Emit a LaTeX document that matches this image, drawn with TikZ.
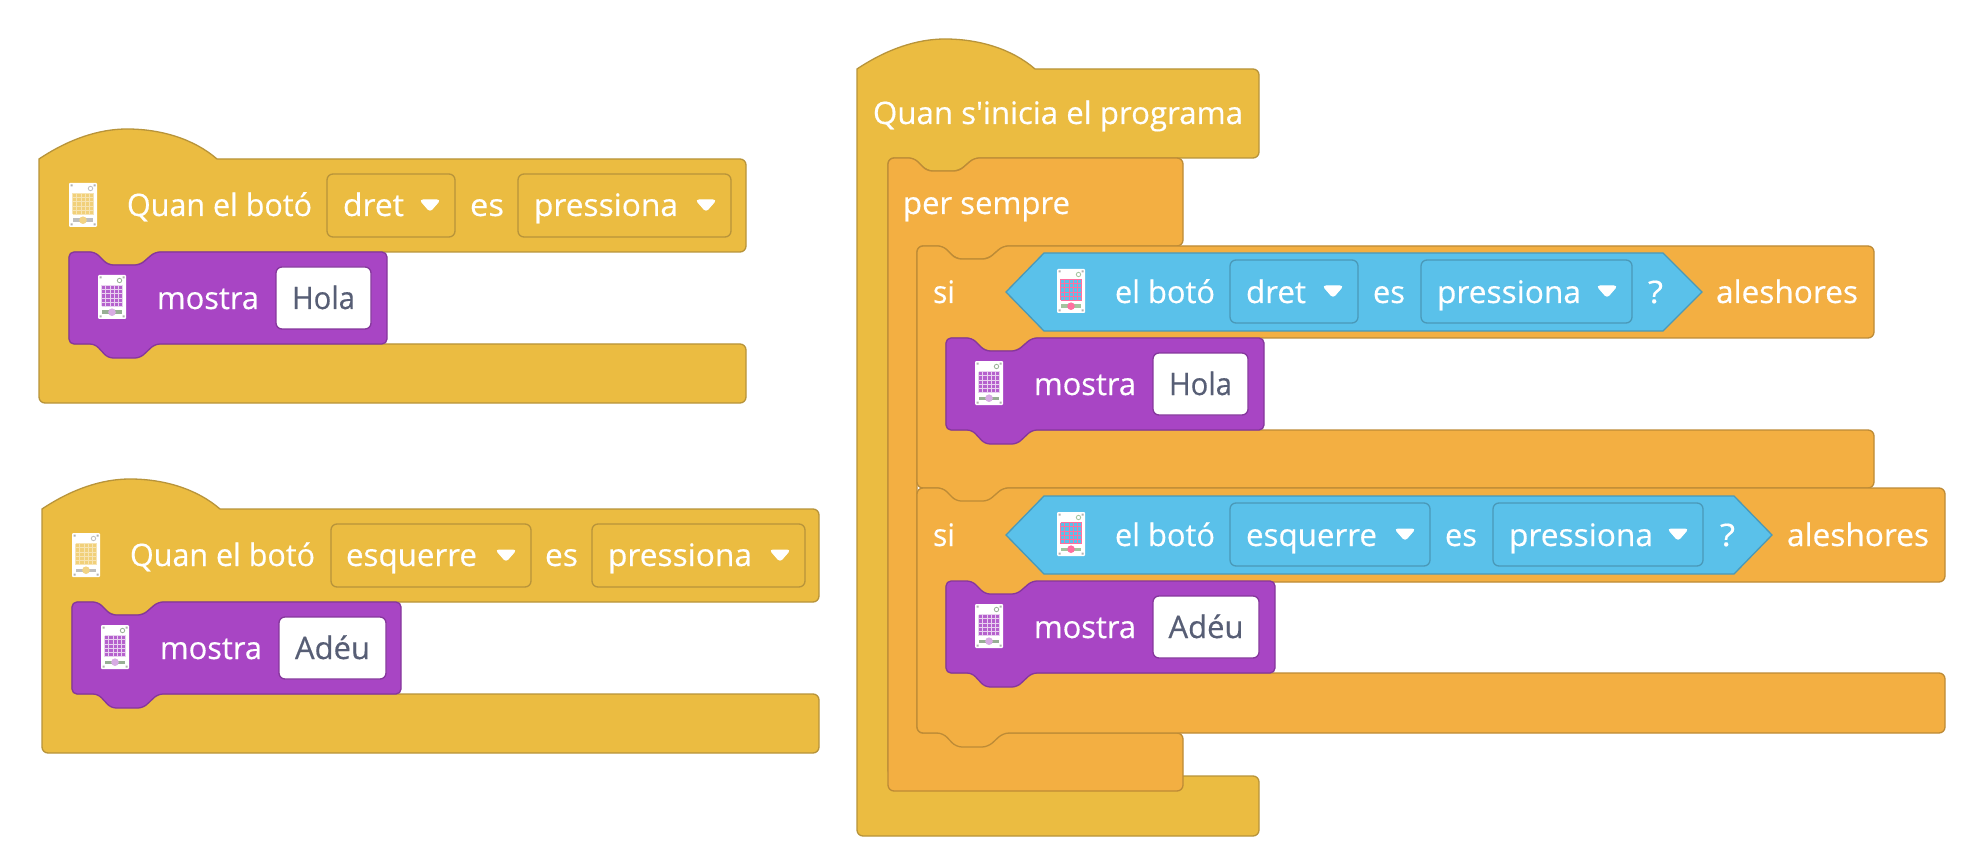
\documentclass[tikz,border=0pt]{standalone}
\usepackage{fontspec}
\usepackage{graphicx}
\newfontfamily\blockfont{Open Sans}[FakeBold=0.45]
\definecolor{yel}{HTML}{EBBC41}
\definecolor{yelD}{HTML}{B8943A}
\definecolor{org}{HTML}{F3AF42}
\definecolor{orgD}{HTML}{BD8B36}
\definecolor{pur}{HTML}{A845C4}
\definecolor{purD}{HTML}{85379C}
\definecolor{blu}{HTML}{5AC1EA}
\definecolor{bluD}{HTML}{4A99B8}
\definecolor{txtD}{HTML}{575E75}
\definecolor{pnk}{HTML}{FF6FA0}
\definecolor{sld}{HTML}{A3C49E}
\newcounter{tn}
\tikzset{
  yblock/.style={fill=yel,draw=yelD,line width=1.3pt},
  oblock/.style={fill=org,draw=orgD,line width=1.3pt},
  pblock/.style={fill=pur,draw=purD,line width=1.3pt},
  hexblock/.style={fill=blu,draw=bluD,line width=1.3pt},
  yfield/.style={draw=yelD,line width=1.3pt,rounded corners=6},
  bfield/.style={draw=bluD,line width=1.3pt,rounded corners=6},
  wfield/.style={fill=white,draw=purD,line width=1.3pt,rounded corners=6},
  lab/.style={inner sep=0pt,outer sep=0pt,anchor=base west,font=\blockfont\fontsize{31}{33}\selectfont},
  dd/.style={fill=white,draw=white,line width=1pt,rounded corners=3}
}
% text of a given printed width, left end x, baseline y
\newcommand\lbl[5]{\stepcounter{tn}%
  \node[lab,text=#5] (t\thetn) at ({#1},{#3}) {\resizebox{#2pt}{\height}{#4}};}
% top edges of the blocks, and how each closes
\newcommand\hattop[2]{[sharp corners] (#1,#2) .. controls ({#1+30},{#2-20}) and ({#1+60},{#2-30}) .. ({#1+88},{#2-30}) .. controls ({#1+122},{#2-30}) and ({#1+155},{#2-20}) .. ({#1+178},#2)}
\newcommand\hatclose[2]{-- (#1,{#2+30}) [sharp corners] -- (#1,#2) -- cycle}
\newcommand\notchtop[2]{[rounded corners=5] ({#1+13},#2) -- ({#1+26},#2) -- ({#1+39},{#2+13}) -- ({#1+71},{#2+13}) -- ({#1+86},#2)}
\newcommand\notchclose[2]{-- (#1,#2) -- cycle}
\newcommand\tabbot[2]{-- ({#1+86},{#2}) -- ({#1+71},{#2+14}) -- ({#1+39},{#2+14}) -- ({#1+26},{#2})}
\newcommand\nobot[2]{}
% C block: style, L, T, R, bar bottom, inner left, lower top, lower right, bottom
\newcommand\cblock[9]{%
  \draw[#1] \curtop{#2}{#3} [rounded corners=6] -- (#4,#3) -- (#4,#5)
   -- ({#6+86},#5) -- ({#6+71},{#5+13}) -- ({#6+39},{#5+13}) -- ({#6+26},#5) -- (#6,#5)
   -- (#6,#7) -- (#8,#7) -- (#8,#9) \curbot{#2}{#9} -- (#2,#9) \curclose{#2}{#3};}
% purple block: L, T, R, field left, field right, text width, text
\newcommand\mostra[7]{%
  \draw[pblock] \notchtop{#1}{#2} -- (#3,#2) -- (#3,{#2+92}) \tabbot{#1}{#2+92} -- (#1,{#2+92}) \notchclose{#1}{#2};
  \icon{#1+29}{#2+23}{pur!85!white}{white!75!pur}{sld!70!gray}{white!55!pur}
  \lbl{#1+88}{102}{#2+57}{mostra}{white}
  \draw[wfield] (#4,{#2+15}) rectangle (#5,{#2+77});
  \lbl{(#4+#5-#6)/2}{#6}{#2+57}{#7}{txtD}}
% device icon: x, y, grid, grid lines, slider, knob
\newcommand\icon[6]{%
  \begin{scope}[shift={({#1},{#2})}]
    \fill[white,rounded corners=1] (0,0) rectangle (28,44);
    \fill[#3] (3.5,10.5) rectangle (24.5,31.5);
    \foreach \k in {0,1,...,5}{
      \draw[#4,line width=.8pt] ({3.5+\k*4.2},10.5) -- ({3.5+\k*4.2},31.5);
      \draw[#4,line width=.8pt] (3.5,{10.5+\k*4.2}) -- (24.5,{10.5+\k*4.2});}
    \fill[gray!60] (1.5,1.5) rectangle (3.5,3.5) (24.5,1.5) rectangle (26.5,3.5) (1.5,40.5) rectangle (3.5,42.5) (24.5,40.5) rectangle (26.5,42.5);
    \draw[#5,line width=.8pt,fill=white] (21.5,5.5) circle (2.2);
    \fill[#5] (4,35.5) rectangle (24,39);
    \fill[#6] (14,37.2) circle (3.8);
  \end{scope}}
\newcommand\field[6]{% style L R T B ; arrow
  \draw[#1] (#2,#4) rectangle (#3,#5);
  \draw[dd] ({#3-35},{(#4+#5)/2-5.5}) -- ({#3-15},{(#4+#5)/2-5.5}) -- ({#3-25},{(#4+#5)/2+6}) -- cycle;}
\begin{document}
\begin{tikzpicture}[x=1pt,y=-1pt]
\useasboundingbox (0,0) rectangle (1972,866);
\fill[white] (0,0) rectangle (1972,866);
% ---------- left top
\let\curtop\hattop \let\curbot\nobot \let\curclose\hatclose
\cblock{yblock}{39}{159}{746}{252}{69}{344}{746}{403}
\icon{69}{183}{yel!70!white}{white!60!yel}{gray!50}{yel!65!white}
\lbl{127}{185}{216}{Quan el botó}{white}
\field{yfield}{327}{455}{174}{237}{}
\lbl{343}{61}{216}{dret}{white}
\lbl{470}{34}{216}{es}{white}
\field{yfield}{518}{731}{174}{237}{}
\lbl{534}{144}{216}{pressiona}{white}
\mostra{69}{252}{387}{276}{371}{63}{Hola}
% ---------- left bottom
\cblock{yblock}{42}{509}{819}{602}{72}{694}{819}{753}
\icon{72}{533}{yel!70!white}{white!60!yel}{gray!50}{yel!65!white}
\lbl{130}{185}{566}{Quan el botó}{white}
\field{yfield}{331}{531}{524}{587}{}
\lbl{346}{131}{566}{esquerre}{white}
\lbl{545}{33}{566}{es}{white}
\field{yfield}{592}{805}{524}{587}{}
\lbl{608}{144}{566}{pressiona}{white}
\mostra{72}{602}{401}{279}{386}{75}{Adéu}
% ---------- right stack
\cblock{yblock}{857}{69}{1259}{158}{888}{776}{1259}{836}
\lbl{873}{370}{124}{Quan s'inicia el programa}{white}
\let\curtop\notchtop \let\curclose\notchclose
\cblock{oblock}{888}{158}{1183}{246}{917}{733}{1183}{791}
\lbl{903}{167}{214}{per sempre}{white}
\let\curbot\tabbot
\cblock{oblock}{917}{246}{1874}{338}{946}{430}{1874}{488}
\cblock{oblock}{917}{488}{1945}{582}{946}{673}{1945}{733}
% si 1
\lbl{933}{22}{303}{si}{white}
\draw[hexblock] (1006,292) -- (1044,253) -- (1663,253) -- (1702,292) -- (1663,331) -- (1044,331) -- cycle;
\icon{1057}{269}{blu}{pnk}{sld}{pnk}
\lbl{1115}{100}{303}{el botó}{white}
\field{bfield}{1230}{1358}{260}{323}{}
\lbl{1246}{60}{303}{dret}{white}
\lbl{1373}{32}{303}{es}{white}
\field{bfield}{1421}{1632}{260}{323}{}
\lbl{1437}{144}{303}{pressiona}{white}
\lbl{1648}{15}{303}{?}{white}
\lbl{1716}{142}{303}{aleshores}{white}
\mostra{946}{338}{1264}{1153}{1248}{63}{Hola}
% si 2
\lbl{933}{22}{546}{si}{white}
\draw[hexblock] (1006,535) -- (1044,496) -- (1734,496) -- (1772,535) -- (1734,574) -- (1044,574) -- cycle;
\icon{1057}{512}{blu}{pnk}{sld}{pnk}
\lbl{1115}{100}{546}{el botó}{white}
\field{bfield}{1230}{1430}{503}{566}{}
\lbl{1246}{131}{546}{esquerre}{white}
\lbl{1445}{32}{546}{es}{white}
\field{bfield}{1493}{1703}{503}{566}{}
\lbl{1509}{144}{546}{pressiona}{white}
\lbl{1720}{15}{546}{?}{white}
\lbl{1787}{142}{546}{aleshores}{white}
\mostra{946}{581}{1275}{1153}{1259}{75}{Adéu}
\end{tikzpicture}
\end{document}
